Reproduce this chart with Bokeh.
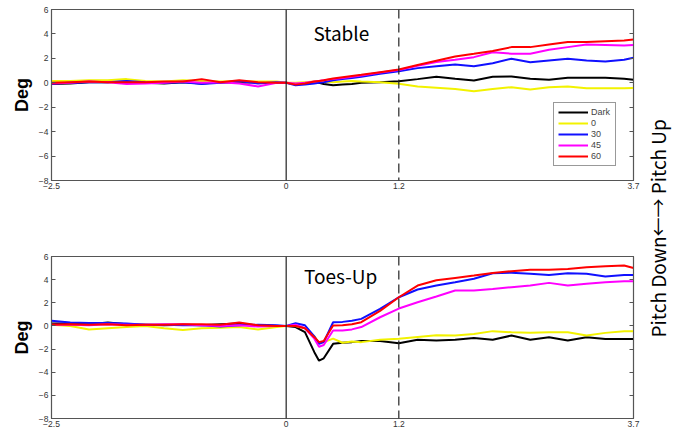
import math
from bokeh.plotting import figure
from bokeh.models import Range1d, FixedTicker, LinearAxis, Label, Span, Legend, CustomJSTickFormatter
from bokeh.layouts import column, row
from bokeh.embed import file_html
from bokeh.resources import INLINE

# ---------------- data ----------------
time = [-2.5, -2.3, -2.1, -1.9, -1.7, -1.5, -1.3, -1.1, -0.9, -0.7, -0.5, -0.3, -0.1,
        0.0, 0.1, 0.2, 0.3, 0.35, 0.4, 0.5, 0.6, 0.7, 0.8,
        1.0, 1.2, 1.4, 1.6, 1.8, 2.0, 2.2, 2.4, 2.6, 2.8, 3.0, 3.2, 3.4, 3.6, 3.7]

series_names = ["Dark", "0", "30", "45", "60"]
series_colors = ["#000000", "#f2f200", "#1010ff", "#ff00ff", "#ff0000"]

stable_dark = [-0.1, -0.05, 0.05, 0.05, 0.1, 0.0, -0.05, 0.05, -0.05, 0.05, 0.0, 0.05, 0.0,
               0.0, -0.1, -0.05, 0.0, 0.0, -0.1, -0.2, -0.15, -0.1, 0.0,
               0.05, 0.13, 0.3, 0.5, 0.33, 0.19, 0.5, 0.52, 0.33, 0.25, 0.41, 0.41, 0.41, 0.33, 0.25]
stable_0 = [0.15, 0.15, 0.2, 0.2, 0.3, 0.15, 0.1, 0.2, 0.15, 0.1, 0.15, 0.1, 0.1,
            0.0, 0.0, 0.05, 0.1, 0.1, 0.1, 0.05, 0.1, 0.15, 0.1,
            0.05, -0.08, -0.3, -0.4, -0.5, -0.69, -0.5, -0.36, -0.55, -0.36, -0.3, -0.45, -0.45, -0.45, -0.43]
stable_30 = [-0.05, 0.0, 0.05, 0.05, 0.15, 0.05, 0.0, 0.05, -0.1, 0.0, 0.15, -0.05, 0.05,
             0.0, -0.2, -0.15, -0.05, 0.0, 0.05, 0.2, 0.3, 0.4, 0.5,
             0.74, 0.95, 1.2, 1.35, 1.5, 1.36, 1.6, 1.97, 1.69, 1.83, 1.97, 1.83, 1.75, 1.88, 2.05]
stable_45 = [-0.05, 0.0, 0.1, 0.05, -0.1, -0.05, 0.0, 0.1, 0.0, 0.05, -0.05, -0.3, 0.0,
             0.0, -0.05, 0.0, 0.1, 0.15, 0.2, 0.3, 0.4, 0.5, 0.6,
             0.85, 1.05, 1.4, 1.7, 1.88, 2.1, 2.5, 2.38, 2.38, 2.7, 2.92, 3.14, 3.1, 3.06, 3.1]
stable_60 = [0.0, 0.05, 0.1, 0.05, 0.05, 0.05, 0.1, 0.1, 0.3, 0.05, 0.2, 0.05, 0.0,
             0.0, -0.15, -0.05, 0.1, 0.15, 0.2, 0.35, 0.45, 0.55, 0.65,
             0.87, 1.09, 1.45, 1.8, 2.15, 2.37, 2.6, 2.92, 2.92, 3.14, 3.33, 3.33, 3.4, 3.47, 3.55]

toes_dark = [0.2, 0.2, 0.15, 0.3, 0.15, 0.1, 0.05, 0.1, 0.05, 0.15, 0.2, 0.05, 0.0,
             0.0, -0.1, -0.54, -2.27, -3.0, -2.8, -1.55, -1.45, -1.4, -1.3,
             -1.3, -1.5, -1.2, -1.25, -1.2, -1.05, -1.2, -0.83, -1.2, -0.98, -1.26, -0.98, -1.12, -1.12, -1.12]
toes_0 = [0.1, 0.0, -0.3, -0.2, -0.1, 0.0, -0.2, -0.35, -0.2, -0.15, -0.1, -0.3, -0.1,
          0.0, 0.0, -0.2, -0.9, -1.45, -1.4, -1.1, -1.45, -1.35, -1.4,
          -1.2, -1.1, -0.95, -0.8, -0.83, -0.7, -0.45, -0.55, -0.6, -0.55, -0.55, -0.83, -0.6, -0.45, -0.45]
toes_30 = [0.45, 0.3, 0.25, 0.25, 0.2, 0.1, 0.1, 0.05, 0.05, -0.05, 0.05, 0.1, 0.05,
           0.0, 0.23, 0.05, -0.9, -1.55, -1.4, 0.32, 0.35, 0.45, 0.61,
           1.47, 2.48, 3.15, 3.5, 3.78, 4.07, 4.55, 4.6, 4.5, 4.4, 4.55, 4.5, 4.27, 4.4, 4.4]
toes_45 = [0.1, 0.1, 0.05, 0.15, 0.1, 0.1, 0.15, 0.15, 0.05, 0.0, 0.05, -0.05, 0.0,
           0.0, 0.1, -0.2, -1.1, -1.8, -1.65, -0.4, -0.4, -0.3, -0.1,
           0.75, 1.5, 2.05, 2.55, 3.06, 3.06, 3.2, 3.35, 3.49, 3.72, 3.49, 3.64, 3.78, 3.86, 3.86]
toes_60 = [0.1, 0.15, 0.1, 0.15, 0.05, 0.1, 0.1, 0.15, 0.15, 0.1, 0.3, 0.05, 0.0,
           0.0, 0.0, -0.2, -0.97, -1.4, -1.3, 0.03, 0.05, 0.15, 0.32,
           1.3, 2.48, 3.49, 3.95, 4.15, 4.35, 4.58, 4.73, 4.85, 4.85, 4.93, 5.07, 5.16, 5.22, 5.0]

x_ticks = [-2.5, 0, 1.2, 3.7]
y_ticks = [-8, -6, -4, -2, 0, 2, 4, 6]
marker_times = [0, 1.2]

stable_series = [stable_dark, stable_0, stable_30, stable_45, stable_60]
toes_series = [toes_dark, toes_0, toes_30, toes_45, toes_60]

FRAME_W = 582
BORDER_L = 51
BORDER_R = 8
AXIS_COL = "#555555"
TICK_FONT = "Liberation Sans"


def make_panel(series, title, frame_h, border_top, border_bottom, legend):
    p = figure(width=BORDER_L + FRAME_W + BORDER_R,
               height=border_top + frame_h + border_bottom,
               x_range=Range1d(-2.5, 3.7), y_range=Range1d(-8, 6),
               output_backend="svg", toolbar_location=None,
               min_border_left=BORDER_L, min_border_right=BORDER_R,
               min_border_top=border_top, min_border_bottom=border_bottom)
    p.grid.visible = False
    p.outline_line_color = AXIS_COL
    p.outline_line_width = 1.2
    p.background_fill_color = "white"
    p.border_fill_color = "white"

    xa = p.xaxis[0]
    xa.ticker = FixedTicker(ticks=x_ticks)
    xa.major_tick_in = 0
    xa.major_tick_out = 0
    xa.minor_tick_line_color = None
    xa.axis_line_color = AXIS_COL
    xa.major_label_standoff = 2
    xa.major_label_text_font = TICK_FONT
    xa.major_label_text_font_size = "8.5px"
    xa.major_label_text_color = "#333333"

    ya = p.yaxis[0]
    ya.ticker = FixedTicker(ticks=y_ticks)
    ya.major_tick_in = 4
    ya.major_tick_out = 0
    ya.major_tick_line_color = AXIS_COL
    ya.minor_tick_line_color = None
    ya.axis_line_color = AXIS_COL
    ya.major_label_standoff = 3
    ya.major_label_text_font = TICK_FONT
    ya.major_label_text_font_size = "8.5px"
    ya.major_label_text_color = "#333333"
    ya.axis_label = "Deg"
    ya.axis_label_text_font = "Liberation Sans"
    ya.axis_label_text_font_style = "bold"
    ya.axis_label_text_font_size = "18px"
    ya.axis_label_text_color = "black"
    ya.axis_label_standoff = 4

    ra = LinearAxis(ticker=FixedTicker(ticks=y_ticks),
                    formatter=CustomJSTickFormatter(code="return '';"))
    ra.major_tick_in = 4
    ra.major_tick_out = 0
    ra.major_tick_line_color = AXIS_COL
    ra.minor_tick_line_color = None
    ra.axis_line_color = AXIS_COL
    ra.major_label_standoff = 0
    p.add_layout(ra, "right")

    p.add_layout(Span(location=marker_times[0], dimension="height",
                      line_color="#222222", line_width=1.2))
    p.add_layout(Span(location=marker_times[1], dimension="height",
                      line_color="#222222", line_width=1.2, line_dash="9 5"))

    renderers = []
    for name, color, ys in zip(series_names, series_colors, series):
        r = p.line(time, ys, line_color=color, line_width=2)
        renderers.append((name, [r]))

    p.add_layout(Label(x=title[1], y=title[2], text=title[0],
                       text_font="Noto Sans CJK JP", text_font_size="19px",
                       text_align="left", text_baseline="middle", text_color="black"))

    if legend:
        lg = Legend(items=renderers, location=(502, 14))
        lg.glyph_width = 30
        lg.glyph_height = 10
        lg.label_height = 10
        lg.label_text_font = TICK_FONT
        lg.label_text_font_size = "9px"
        lg.label_standoff = 3
        lg.spacing = 1
        lg.padding = 4
        lg.margin = 0
        lg.border_line_color = "#333333"
        lg.border_line_width = 1
        lg.background_fill_alpha = 1
        p.add_layout(lg, "center")
    return p


top = make_panel(stable_series, ("Stable", 0.29, 4.1), 171, 9, 38, True)
bottom = make_panel(toes_series, ("Toes-Up", 0.19, 4.35), 162, 38, 11, False)

side = figure(width=32, height=429, x_range=Range1d(0, 1), y_range=Range1d(0, 1),
              output_backend="svg", toolbar_location=None,
              x_axis_location=None, y_axis_location=None, min_border=0)
side.grid.visible = False
side.outline_line_color = None
side.add_layout(Label(x=0.5, y=0.469, text="Pitch Down←→ Pitch Up", angle=math.pi / 2,
                      text_font="Noto Sans CJK JP", text_font_size="19px",
                      text_align="center", text_baseline="middle", text_color="black"))

layout = row(column(top, bottom), side)

with open("out.html", "w") as f:
    f.write(file_html(layout, INLINE))
